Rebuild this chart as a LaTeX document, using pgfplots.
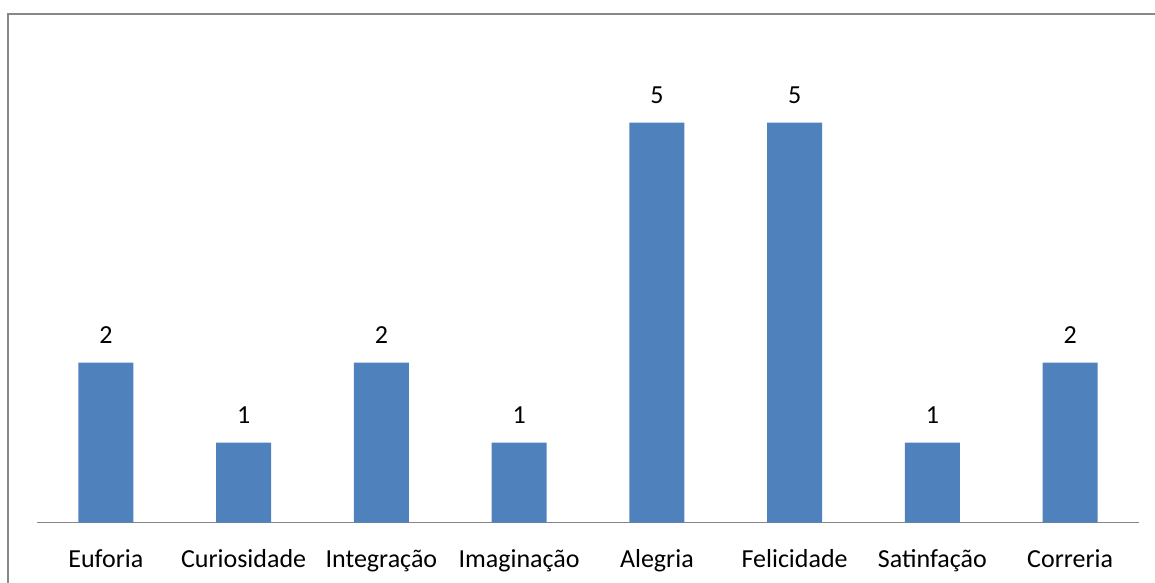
\documentclass[border=0pt]{standalone}
\usepackage{pgfplots}
\pgfplotsset{compat=1.18}
\usepackage{fontspec}
\setmainfont{Carlito}
\definecolor{barblue}{HTML}{4F81BD}
\definecolor{axgray}{HTML}{868686}
\definecolor{bordergray}{HTML}{888888}
\begin{document}
\begin{tikzpicture}[x=0.75pt,y=0.75pt]
\useasboundingbox (0,0) rectangle (1155,582);
\draw[bordergray, line width=1.5pt] (7.5,-20) -- (7.5,567.5) -- (1200,567.5);
\begin{axis}[
  at={(27.75pt,44.475pt)}, anchor=south west,
  scale only axis,
  width=826.5pt, height=360pt,
  xmin=-0.5, xmax=7.5, ymin=0, ymax=6,
  axis x line*=bottom,
  axis y line=none,
  x axis line style={axgray, line width=1.1pt, -},
  xtick=data,
  xticklabels={Euforia,Curiosidade,Integração,Imaginação,Alegria,Felicidade,Satinfação,Correria},
  xtick style={draw=none},
  xticklabel style={font=\fontsize{19.5}{23}\selectfont, anchor=base, inner sep=0pt, yshift=-29.5pt},
  ybar, bar width=41.25pt,
  /pgf/number format/assume math mode=true,
  nodes near coords,
  every node near coord/.append style={font=\fontsize{19.5}{23}\selectfont, black, yshift=11pt},
  clip=false,
]
\addplot[fill=barblue, draw=none] coordinates {(0,2) (1,1) (2,2) (3,1) (4,5) (5,5) (6,1) (7,2)};
\end{axis}
\end{tikzpicture}
\end{document}
